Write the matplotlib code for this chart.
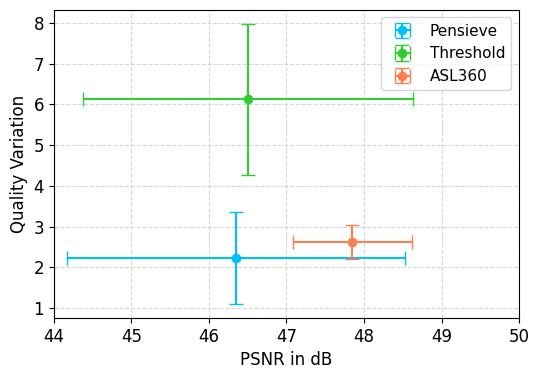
import matplotlib.pyplot as plt

methods = ["Pensieve", "Threshold", "ASL360"]
colors = ["deepskyblue", "limegreen", "coral"]
psnr_mean = [46.35, 46.50, 47.85]
psnr_err = [2.18, 2.13, 0.77]
qv_mean = [2.23, 6.13, 2.62]
qv_err = [1.13, 1.85, 0.42]

fig, ax = plt.subplots(figsize=(5.39, 3.79), dpi=100)
fig.subplots_adjust(left=0.1, right=0.963, top=0.974, bottom=0.161)

for name, c, x, xe, y, ye in zip(methods, colors, psnr_mean, psnr_err, qv_mean, qv_err):
    ax.errorbar(x, y, xerr=xe, yerr=ye, fmt="o", color=c, capsize=5,
                linewidth=1.5, markersize=6, label=name)

ax.set_xlim(44, 50)
ax.set_xlabel("PSNR in dB", fontsize=12)
ax.set_ylabel("Quality Variation", fontsize=12)
ax.tick_params(labelsize=12)
ax.grid(True, linestyle="--", color="lightgray", alpha=0.9)
ax.legend(fontsize=11, loc="upper right")

fig.savefig("out.png", dpi=100)
